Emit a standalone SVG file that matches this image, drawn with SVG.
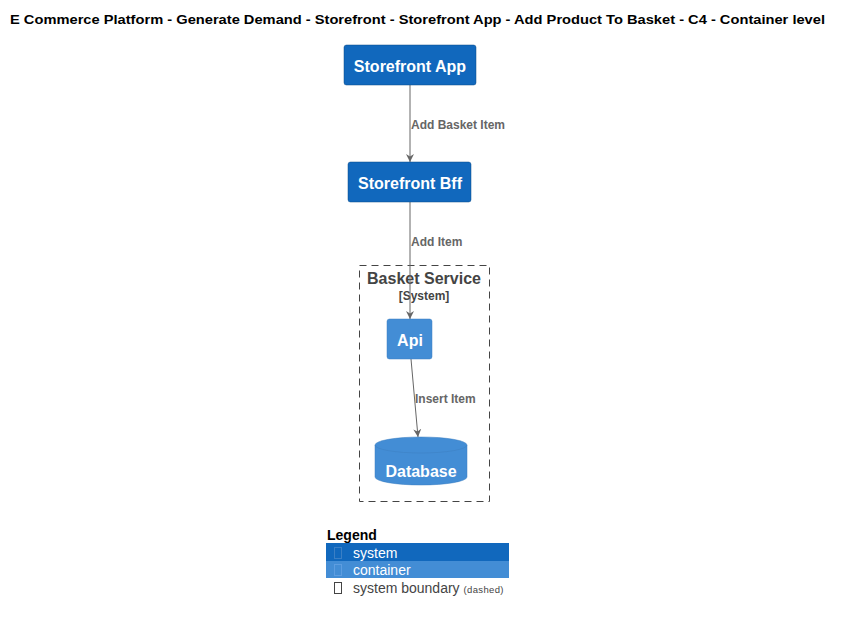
<svg xmlns="http://www.w3.org/2000/svg" width="842" height="622" viewBox="0 0 842 622">
<style>
text{font-family:"Liberation Sans",Arial,sans-serif}
.title{font-size:13.5px;font-weight:bold;fill:#000}
.sys{fill:#1168bd;stroke:#0b4884;stroke-width:0.5}
.cont{fill:#438dd5;stroke:#3c7fc0;stroke-width:0.5}
.nl{font-size:16px;font-weight:bold;fill:#fff;text-anchor:middle}
.el{font-size:12px;font-weight:bold;fill:#666}
.edge{stroke:#666;stroke-width:1;fill:none}
.bnd{fill:none;stroke:#444;stroke-width:1;stroke-dasharray:7,5}
.lg{font-size:14px}
</style>
<defs>
<marker id="arr" viewBox="0 0 10 10" refX="10" refY="5" markerWidth="8" markerHeight="10" orient="auto" markerUnits="userSpaceOnUse">
<path d="M0,0 L10,5 L0,10 L3,5 Z" fill="#666"/>
</marker>
</defs>
<rect width="842" height="622" fill="#fff"/>
<text class="title" x="10" y="24" textLength="815" lengthAdjust="spacingAndGlyphs">E Commerce Platform - Generate Demand - Storefront - Storefront App - Add Product To Basket - C4 - Container level</text>

<g id="boundary-basket-service">
<rect class="bnd" x="359.5" y="265.5" width="130" height="236"/>
<text x="424" y="284" style="font-size:16px;font-weight:bold;fill:#444;text-anchor:middle">Basket Service</text>
<text x="424" y="300" style="font-size:12px;font-weight:bold;fill:#444;text-anchor:middle">[System]</text>
</g>

<g id="edges">
<line class="edge" x1="410" y1="85" x2="410" y2="162" marker-end="url(#arr)"/>
<text class="el" x="411" y="129">Add Basket Item</text>
<line class="edge" x1="410" y1="202" x2="410" y2="319" marker-end="url(#arr)"/>
<text class="el" x="411" y="246">Add Item</text>
<line class="edge" x1="411" y1="359" x2="418" y2="437" marker-end="url(#arr)"/>
<text class="el" x="415" y="403">Insert Item</text>
</g>

<g id="storefront-app">
<rect class="sys" x="344" y="45" width="132" height="40" rx="2.5"/>
<text class="nl" x="410" y="72">Storefront App</text>
</g>
<g id="storefront-bff">
<rect class="sys" x="348" y="162" width="123" height="40" rx="2.5"/>
<text class="nl" x="410" y="189">Storefront Bff</text>
</g>
<g id="api">
<rect class="cont" x="387" y="319" width="45" height="40" rx="2.5"/>
<text class="nl" x="410" y="346">Api</text>
</g>
<g id="database">
<path class="cont" d="M375,445 A46,8 0 0 1 467,445 L467,477 A46,8 0 0 1 375,477 Z"/>
<path d="M375,445 A46,8 0 0 0 467,445" fill="none" stroke="#3c7fc0" stroke-width="0.5"/>
<text class="nl" x="421" y="477">Database</text>
</g>

<g id="legend">
<text x="327" y="540" style="font-size:14px;font-weight:bold;fill:#000">Legend</text>
<rect x="326" y="543" width="183" height="18" fill="#1168bd"/>
<rect x="334.5" y="547.5" width="7" height="11" fill="none" stroke="#3a7fc5" stroke-width="1"/>
<text class="lg" x="353" y="557.5" fill="#fff">system</text>
<rect x="326" y="561" width="183" height="17" fill="#438dd5"/>
<rect x="334.5" y="564.5" width="7" height="11" fill="none" stroke="#5d9de0" stroke-width="1"/>
<text class="lg" x="353" y="575" fill="#fff">container</text>
<rect x="334.5" y="582.5" width="7" height="11" fill="none" stroke="#444" stroke-width="1"/>
<text class="lg" x="353" y="593" fill="#444">system boundary <tspan style="font-size:9.5px" textLength="40">(dashed)</tspan></text>
</g>
</svg>
